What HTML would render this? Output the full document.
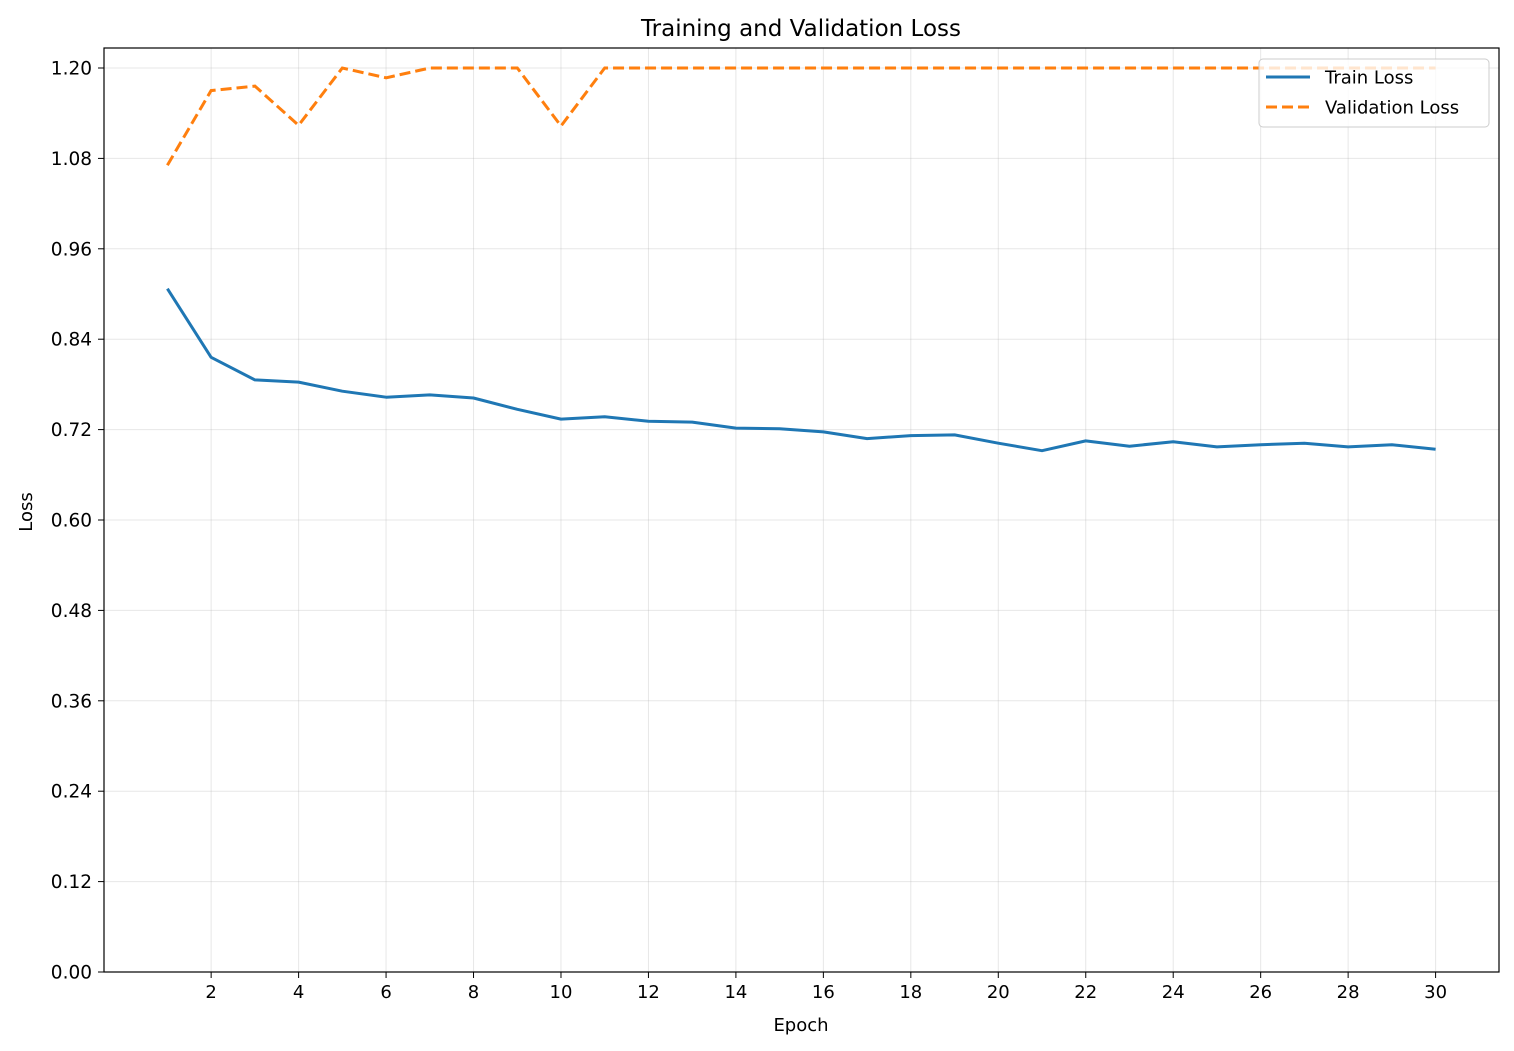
<!DOCTYPE html>
<html><head><meta charset="utf-8">
<style>
body{margin:0;background:#fff;}
svg{display:block;font-family:"DejaVu Sans","Liberation Sans",sans-serif;}
</style></head>
<body>
<svg id="chart" width="1514" height="1051" viewBox="0 0 1514 1051">
<rect width="1514" height="1051" fill="#fff"/>
<text x="801" y="36" font-size="23" text-anchor="middle" fill="#000">Training and Validation Loss</text>
<g id="grid"></g>
<g id="lines"></g>
<g id="axes"></g>
<text x="801" y="1031" font-size="18" text-anchor="middle">Epoch</text>
<text transform="translate(32,512) rotate(-90)" font-size="18" text-anchor="middle">Loss</text>
<g id="legend">
<rect x="1259" y="59" width="230" height="68" rx="4" fill="#fff" fill-opacity="0.8" stroke="#ccc" stroke-width="1"/>
<g>
<line x1="1266" y1="77" x2="1310" y2="77" stroke="#1f77b4" stroke-width="3"/>
<text x="1325" y="83.5" font-size="18">Train Loss</text></g>
<g>
<line x1="1266" y1="107" x2="1310" y2="107" stroke="#ff7f0e" stroke-width="3" stroke-dasharray="11,5"/>
<text x="1325" y="113.5" font-size="18">Validation Loss</text></g>
</g>
</svg>
<script>
const epochs=[1,2,3,4,5,6,7,8,9,10,11,12,13,14,15,16,17,18,19,20,21,22,23,24,25,26,27,28,29,30];
const trainLoss=[0.907,0.816,0.786,0.783,0.771,0.763,0.766,0.762,0.747,0.734,0.737,0.731,0.730,0.722,0.721,0.717,0.708,0.712,0.713,0.702,0.692,0.705,0.698,0.704,0.697,0.700,0.702,0.697,0.700,0.694];
const valLoss=[1.071,1.170,1.176,1.124,1.2,1.187,1.2,1.2,1.2,1.123,1.2,1.2,1.2,1.2,1.2,1.2,1.2,1.2,1.2,1.2,1.2,1.2,1.2,1.2,1.2,1.2,1.2,1.2,1.2,1.2];
const yTicks=[0,0.12,0.24,0.36,0.48,0.60,0.72,0.84,0.96,1.08,1.20];
const xTicks=[2,4,6,8,10,12,14,16,18,20,22,24,26,28,30];

const L=104,R=1499,T=48,B=972;
const xMin=-0.45,xMax=31.45,yMin=0,yMax=1.2;
const xs=v=>L+(v-xMin)/(xMax-xMin)*(R-L);
const ys=v=>B-(v-yMin)/(yMax-yMin)*(B-68);
const NS="http://www.w3.org/2000/svg";
function mk(tag,attrs,parent){const e=document.createElementNS(NS,tag);for(const k in attrs)e.setAttribute(k,attrs[k]);parent.appendChild(e);return e;}
const grid=document.getElementById('grid'),axes=document.getElementById('axes'),lines=document.getElementById('lines');

xTicks.forEach(t=>{
  const x=xs(t);
  const g=mk('line',{x1:x,y1:T,x2:x,y2:B,stroke:'#b0b0b0','stroke-opacity':0.3,'stroke-width':1},grid);
  
  
  mk('line',{x1:x,y1:B,x2:x,y2:B+6,stroke:'#000','stroke-width':1},axes);
  const tx=mk('text',{x:x,y:B+26,'font-size':18,'text-anchor':'middle'},axes);
  tx.textContent=t;
  
  
});
yTicks.forEach(t=>{
  const y=ys(t);
  const g=mk('line',{x1:L,y1:y,x2:R,y2:y,stroke:'#b0b0b0','stroke-opacity':0.3,'stroke-width':1},grid);
  
  
  mk('line',{x1:L-6,y1:y,x2:L,y2:y,stroke:'#000','stroke-width':1},axes);
  const tx=mk('text',{x:L-12,y:y+6.5,'font-size':18.5,'text-anchor':'end'},axes);
  tx.textContent=t.toFixed(2);
  
  
});
const frame=mk('rect',{x:L,y:T,width:R-L,height:B-T,fill:'none',stroke:'#000','stroke-width':1.2},axes);



const pts=a=>epochs.map((e,i)=>xs(e).toFixed(1)+','+ys(a[i]).toFixed(1)).join(' ');
const tl=mk('polyline',{points:pts(trainLoss),fill:'none',stroke:'#1f77b4','stroke-width':3,'stroke-linejoin':'round'},lines);


const vl=mk('polyline',{points:pts(valLoss),fill:'none',stroke:'#ff7f0e','stroke-width':3,'stroke-dasharray':'11,5'},lines);


</script>
</body></html>
